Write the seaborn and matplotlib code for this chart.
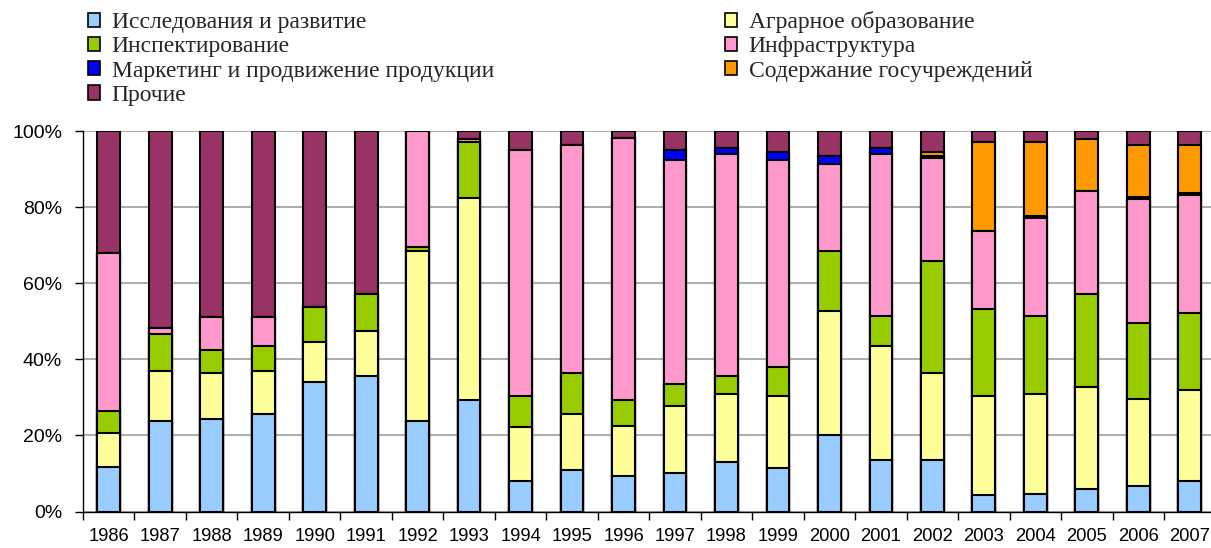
import numpy as np
import pandas as pd
import seaborn as sns
import matplotlib.pyplot as plt
from matplotlib.patches import Patch
from matplotlib.ticker import FixedLocator

years = [str(y) for y in range(1986, 2008)]

# shares, % of total
research = [11.8, 23.9, 24.3, 25.5, 34.0, 35.7, 23.9, 29.3, 8.0, 10.9, 9.2,
            10.2, 13.1, 11.4, 20.1, 13.5, 13.5, 4.3, 4.7, 5.9, 6.8, 8.0]
agrarian = [8.7, 12.9, 12.1, 11.3, 10.5, 11.7, 44.5, 53.2, 14.3, 14.6, 13.4,
            17.5, 17.8, 18.9, 32.7, 30.0, 22.9, 26.0, 26.2, 26.8, 22.8, 23.9]
inspection = [5.9, 9.8, 6.0, 6.7, 9.2, 9.7, 1.1, 14.6, 8.0, 10.8, 6.7,
              5.8, 4.7, 7.8, 15.6, 8.0, 29.4, 22.9, 20.6, 24.4, 19.9, 20.2]
infrastructure = [41.5, 1.5, 8.6, 7.5, 0.0, 0.0, 30.5, 0.7, 64.8, 60.0, 68.9,
                  58.9, 58.3, 54.3, 22.8, 42.4, 27.1, 20.6, 25.6, 27.1, 32.7, 31.1]
marketing = [0, 0, 0, 0, 0, 0, 0, 0, 0, 0, 0,
             2.6, 1.7, 2.1, 2.1, 1.7, 0.5, 0, 0.5, 0, 0.4, 0.6]
gov_inst = [0, 0, 0, 0, 0, 0, 0, 0, 0, 0, 0,
            0, 0, 0, 0, 0, 1.1, 23.3, 19.5, 13.7, 13.7, 12.5]
other = [32.1, 51.9, 49.0, 49.0, 46.3, 42.9, 0.0, 2.2, 4.9, 3.7, 1.8,
         5.0, 4.4, 5.5, 6.7, 4.4, 5.5, 2.9, 2.9, 2.1, 3.7, 3.7]

labels = ["Исследования и развитие", "Аграрное образование", "Инспектирование",
          "Инфраструктура", "Маркетинг и продвижение продукции",
          "Содержание госучреждений", "Прочие"]
colors = ["#99CCFF", "#FFFF99", "#99CC00", "#FF99CC", "#0000FF", "#FF9900", "#993366"]

df = pd.DataFrame({"year": years, "r": research, "a": agrarian, "i": inspection,
                   "inf": infrastructure, "m": marketing, "g": gov_inst, "o": other})
cols = ["r", "a", "i", "inf", "m", "g", "o"]
cum = df[cols].cumsum(axis=1)

sns.set_theme(style="white")
plt.rcParams["font.family"] = ["Liberation Sans", "DejaVu Sans"]

fig = plt.figure(figsize=(12.11, 5.48), dpi=100)
ax = fig.add_axes([83 / 1211, 1 - 511.5 / 548, (1215.5 - 83) / 1211, (511.5 - 131) / 548])

# stacked bars: draw cumulative totals from the top down
for k in range(len(cols) - 1, -1, -1):
    sns.barplot(x=df["year"], y=cum[cols[k]], color=colors[k], saturation=1,
                width=0.442, edgecolor="black", linewidth=1.5, errorbar=None,
                ax=ax, zorder=3)

ax.set_ylim(0, 100)
ax.set_xlim(-0.5, len(years) - 0.5)
ax.set_xlabel("")
ax.set_ylabel("")
ax.set_yticks(range(0, 101, 20))
ax.set_yticklabels([f"{v}%" for v in range(0, 101, 20)])
ax.yaxis.grid(True, color="#a6a6a6", linewidth=1.3)
ax.set_axisbelow(True)

ax.xaxis.set_minor_locator(FixedLocator(np.arange(-0.5, len(years), 1)))
ax.tick_params(axis="x", which="major", length=0, pad=12, labelsize=13.2, colors="black")
ax.tick_params(axis="x", which="minor", length=6, width=1, direction="out",
               color="black", bottom=True)
ax.tick_params(axis="y", length=6, width=1, direction="out", pad=9,
               labelsize=14, colors="black", left=True)

for s in ["top", "right"]:
    ax.spines[s].set_visible(False)
for s in ["left", "bottom"]:
    ax.spines[s].set_color("black")
    ax.spines[s].set_linewidth(1)

handles = [Patch(facecolor=c, edgecolor="black", linewidth=1.2) for c in colors]
legend_kw = dict(frameon=False, loc="upper left",
                 prop={"family": ["Liberation Serif", "DejaVu Serif"], "size": 17},
                 handlelength=0.5, handleheight=0.55, handletextpad=0.5,
                 labelspacing=0.14, borderpad=0, borderaxespad=0)
left_idx = [0, 2, 4, 6]
right_idx = [1, 3, 5]
fig.legend([handles[i] for i in left_idx], [labels[i] for i in left_idx],
           bbox_to_anchor=(88 / 1211, 1 - 12 / 548), **legend_kw)
fig.legend([handles[i] for i in right_idx], [labels[i] for i in right_idx],
           bbox_to_anchor=(725 / 1211, 1 - 11 / 548), **legend_kw)

fig.savefig("out.png", dpi=100)
